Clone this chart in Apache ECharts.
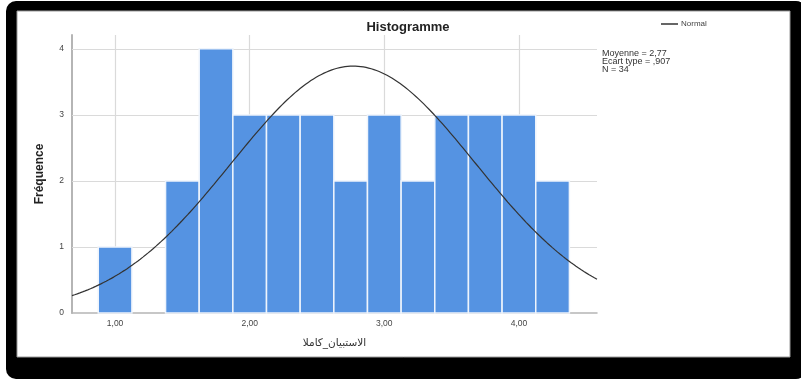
<!DOCTYPE html>
<html>
<head>
<meta charset="utf-8">
<script src="https://cdn.jsdelivr.net/npm/echarts@6/dist/echarts.min.js"></script>
<style>
  html, body { margin: 0; padding: 0; background: #ffffff; }
  #chart { width: 801px; height: 380px; }
</style>
</head>
<body>
<div id="chart"></div>
<script>
// Histogram bins: centre of each class and its frequency
const binCenters = [1.00, 1.25, 1.50, 1.75, 2.00, 2.25, 2.50, 2.75, 3.00, 3.25, 3.50, 3.75, 4.00, 4.25];
const binCounts  = [1, 0, 2, 4, 3, 3, 3, 2, 3, 2, 3, 3, 3, 2];
const binWidth = 0.25;

// Summary statistics shown beside the plot
const statMean = 2.77;
const statSd = 0.907;
const statN = 34;

// Axis ticks
const xTicks = [1, 2, 3, 4];
const yTicks = [0, 1, 2, 3, 4];
const xRange = [0.68, 4.58];
const yRange = [0, 4.21];

// Fitted normal curve, scaled to counts per bin
const curve = [];
const steps = 200;
for (let i = 0; i <= steps; i++) {
  const x = xRange[0] + (xRange[1] - xRange[0]) * i / steps;
  const z = (x - statMean) / statSd;
  const y = statN * binWidth * Math.exp(-0.5 * z * z) / (statSd * Math.sqrt(2 * Math.PI));
  curve.push([x, y]);
}

const barData = binCenters.map((c, i) => [c - binWidth / 2, c + binWidth / 2, binCounts[i]]);
const fmt = v => v.toFixed(2).replace('.', ',');
const frFmt = v => {
  const s = v.toFixed(3).replace('.', ',');
  return s.startsWith('0') ? s.slice(1) : s;
};

const chart = echarts.init(document.getElementById('chart'), null, { renderer: 'canvas' });

chart.setOption({
  backgroundColor: 'transparent',
  animation: false,
  title: {
    text: 'Histogramme',
    left: 403,
    top: 16,
    textAlign: 'center',
    textStyle: { fontFamily: 'Liberation Sans, Arial, sans-serif', fontSize: 13, fontWeight: 'bold', color: '#222' }
  },
  legend: {
    data: ['Normal'],
    left: 656,
    top: 15,
    itemWidth: 17,
    itemHeight: 1.5,
    itemGap: 4,
    icon: 'rect',
    textStyle: { fontFamily: 'Liberation Sans, Arial, sans-serif', fontSize: 8, color: '#444', padding: [0, 0, 0, -2] }
  },
  graphic: [
    { type: 'rect', z: -10, silent: true, shape: { x: 6, y: 1, width: 800, height: 378, r: 10 }, style: { fill: '#000' } },
    { type: 'rect', z: -9, silent: true, shape: { x: 17, y: 11, width: 773, height: 346 }, style: { fill: '#fff', stroke: '#9a9a9a', lineWidth: 1 } },
    {
      type: 'text', left: 602, top: 49, z: 10,
      style: {
        text: 'Moyenne = ' + fmt(statMean) + '\nEcart type = ' + frFmt(statSd) + '\nN = ' + statN,
        fontFamily: 'Liberation Sans, Arial, sans-serif', fontSize: 9, lineHeight: 8, fill: '#333'
      }
    }
  ],
  grid: { left: 72, right: 204, top: 35, bottom: 67, containLabel: false },
  xAxis: {
    type: 'value',
    min: xRange[0],
    max: xRange[1],
    name: 'الاستبيان_كاملا',
    nameLocation: 'middle',
    nameGap: 25,
    nameTextStyle: { fontFamily: 'DejaVu Sans, sans-serif', fontSize: 10.5, color: '#333' },
    axisLine: { show: true, lineStyle: { color: '#b5b5b5', width: 1.5 } },
    axisTick: { show: false },
    splitLine: { show: false },
    axisLabel: {
      customValues: xTicks,
      formatter: v => fmt(v),
      margin: 6,
      fontFamily: 'Liberation Sans, Arial, sans-serif', fontSize: 8.5, color: '#444'
    }
  },
  yAxis: {
    type: 'value',
    min: yRange[0],
    max: yRange[1],
    name: 'Fréquence',
    nameLocation: 'middle',
    nameGap: 26,
    nameTextStyle: { fontFamily: 'Liberation Sans, Arial, sans-serif', fontSize: 12, fontWeight: 'bold', color: '#222' },
    axisLine: { show: true, lineStyle: { color: '#b5b5b5', width: 2 } },
    axisTick: { show: false },
    splitLine: { show: false },
    axisLabel: {
      customValues: yTicks,
      margin: 8,
      fontFamily: 'Liberation Sans, Arial, sans-serif', fontSize: 8.5, color: '#444'
    }
  },
  series: [
    {
      // reference grid lines at the labelled values, kept behind the bars
      type: 'line',
      data: [],
      silent: true,
      z: 1,
      markLine: {
        z: 1,
        silent: true,
        symbol: 'none',
        label: { show: false },
        lineStyle: { color: '#dadada', width: 1.2, type: 'solid' },
        data: xTicks.map(v => ({ xAxis: v })).concat(yTicks.slice(1).map(v => ({ yAxis: v })))
      }
    },
    {
      type: 'custom',
      z: 2,
      data: barData,
      renderItem: (params, api) => {
        const lo = api.value(0), hi = api.value(1), n = api.value(2);
        if (!n) return null;
        const p0 = api.coord([lo, 0]);
        const p1 = api.coord([hi, n]);
        return {
          type: 'rect',
          shape: { x: p0[0], y: p1[1], width: p1[0] - p0[0], height: p0[1] - p1[1] },
          style: { fill: '#5593e2', stroke: '#eef4fc', lineWidth: 1.5 }
        };
      },
      encode: { x: [0, 1], y: 2 }
    },
    {
      name: 'Normal',
      type: 'line',
      z: 3,
      data: curve,
      showSymbol: false,
      smooth: false,
      lineStyle: { color: '#333', width: 1.2 },
      itemStyle: { color: '#333' }
    }
  ]
});
</script>
</body>
</html>
